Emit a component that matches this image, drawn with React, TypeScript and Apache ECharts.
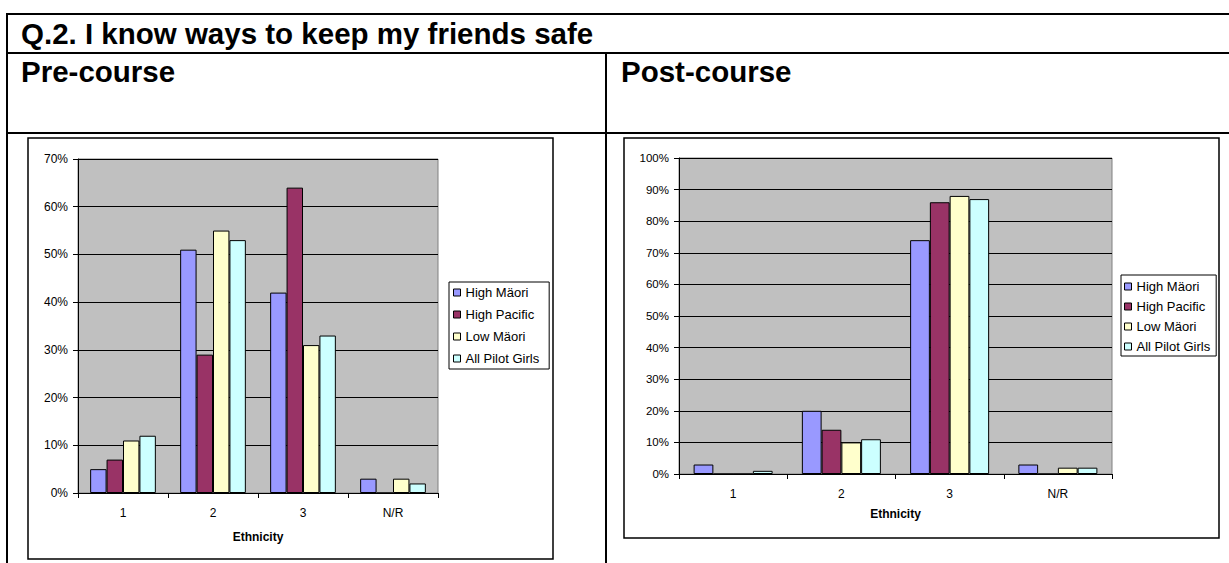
import React, { useEffect, useRef } from "react";
import * as echarts from "echarts";

const FONT = '"Liberation Sans", Arial, Helvetica, sans-serif';

const categories = ["1", "2", "3", "N/R"];
const seriesNames = ["High Mäori", "High Pacific", "Low Mäori", "All Pilot Girls"];
const seriesColors = ["#9999FF", "#993366", "#FFFFCC", "#CCFFFF"];

// Pre-course (%)
const preHighMaori = [5, 51, 42, 3];
const preHighPacific = [7, 29, 64, 0];
const preLowMaori = [11, 55, 31, 3];
const preAllPilotGirls = [12, 53, 33, 2];

// Post-course (%)
const postHighMaori = [3, 20, 74, 3];
const postHighPacific = [0, 14, 86, 0];
const postLowMaori = [0, 10, 88, 2];
const postAllPilotGirls = [1, 11, 87, 2];

const titleText = "Q.2. I know ways to keep my friends safe";
const preTitle = "Pre-course";
const postTitle = "Post-course";
const xAxisName = "Ethnicity";

export default function App() {
  const ref = useRef<HTMLDivElement>(null);

  useEffect(() => {
    if (!ref.current) return;
    const chart = echarts.init(ref.current, undefined, { renderer: "svg" });

    const mkX = (gridIndex: number, margin: number, nameGap: number) => ({
      type: "category",
      gridIndex,
      data: categories,
      axisLine: { show: true, lineStyle: { color: "#000", width: 1 } },
      axisTick: { show: true, length: 5, lineStyle: { color: "#000" } },
      axisLabel: { color: "#000", fontSize: 12, margin, fontFamily: FONT },
      name: xAxisName,
      nameLocation: "middle",
      nameGap,
      nameTextStyle: { color: "#000", fontWeight: "bold", fontSize: 12, fontFamily: FONT },
    });

    const mkY = (gridIndex: number, max: number, fontSize: number) => ({
      type: "value",
      gridIndex,
      min: 0,
      max,
      interval: 10,
      axisLine: { show: true, lineStyle: { color: "#000", width: 1 } },
      axisTick: { show: true, length: 5, lineStyle: { color: "#000" } },
      axisLabel: { color: "#000", fontSize, margin: 10, formatter: "{value}%", fontFamily: FONT },
      splitLine: { show: true, lineStyle: { color: "#000", width: 1 } },
    });

    const preData = [preHighMaori, preHighPacific, preLowMaori, preAllPilotGirls];
    const postData = [postHighMaori, postHighPacific, postLowMaori, postAllPilotGirls];

    const mkSeries = (data: number[][], idx: number) =>
      data.map((d, i) => ({
        type: "bar",
        name: seriesNames[i],
        xAxisIndex: idx,
        yAxisIndex: idx,
        data: d,
        barGap: "0%",
        barCategoryGap: "27%",
        itemStyle: { color: seriesColors[i], borderColor: "#000", borderWidth: 1 },
      }));

    const mkLegend = (left: number, top: number, padding: number[], itemGap: number, fontSize: number) => ({
      left,
      top,
      orient: "vertical",
      data: seriesNames,
      icon: "rect",
      itemWidth: 7,
      itemHeight: 7,
      itemGap,
      padding,
      borderColor: "#000",
      borderWidth: 1,
      backgroundColor: "#fff",
      selectedMode: false,
      itemStyle: { borderColor: "#000", borderWidth: 1 },
      textStyle: { color: "#000", fontSize, fontFamily: FONT },
    });

    const line = (x1: number, y1: number, x2: number, y2: number) => ({
      type: "line",
      shape: { x1, y1, x2, y2 },
      style: { stroke: "#000", lineWidth: 2 },
      silent: true,
    });

    const headText = (text: string, x: number, y: number) => ({
      type: "text",
      x,
      y,
      style: {
        text,
        fill: "#000",
        font: `bold 29.5px ${FONT}`,
        verticalAlign: "middle",
        textVerticalAlign: "middle",
      },
      silent: true,
    });

    const option = {
      animation: false,
      backgroundColor: "#fff",
      textStyle: { fontFamily: FONT },
      grid: [
        { left: 78, top: 159, width: 360, height: 334, show: true, backgroundColor: "#C0C0C0", borderColor: "#808080", borderWidth: 1 },
        { left: 679, top: 158, width: 433, height: 316, show: true, backgroundColor: "#C0C0C0", borderColor: "#808080", borderWidth: 1 },
      ],
      xAxis: [mkX(0, 14, 38), mkX(1, 14, 34)],
      yAxis: [mkY(0, 70, 12), mkY(1, 100, 11.5)],
      legend: [
        mkLegend(449, 282, [4, 10, 4, 4], 9, 13),
        mkLegend(1121, 275, [5, 6, 3, 3], 7, 13),
      ],
      series: [...mkSeries(preData, 0), ...mkSeries(postData, 1)],
      graphic: [
        // table lines
        line(7, 14, 1229, 14),
        line(7, 53, 1229, 53),
        line(7, 133, 1229, 133),
        line(7, 13, 7, 563),
        line(606, 53, 606, 563),
        // chart boxes
        {
          type: "rect",
          shape: { x: 28, y: 138, width: 525, height: 421 },
          style: { fill: "none", stroke: "#000", lineWidth: 1.5 },
          silent: true,
        },
        {
          type: "rect",
          shape: { x: 624, y: 138, width: 595, height: 400 },
          style: { fill: "none", stroke: "#000", lineWidth: 1.5 },
          silent: true,
        },
        headText(titleText, 21, 33),
        headText(preTitle, 21, 71),
        headText(postTitle, 621, 71),
      ],
    };

    chart.setOption(option as any);
    return () => chart.dispose();
  }, []);

  return (
    <div
      ref={ref}
      style={{ position: "fixed", left: 0, top: 0, width: 1229, height: 563 }}
    />
  );
}
